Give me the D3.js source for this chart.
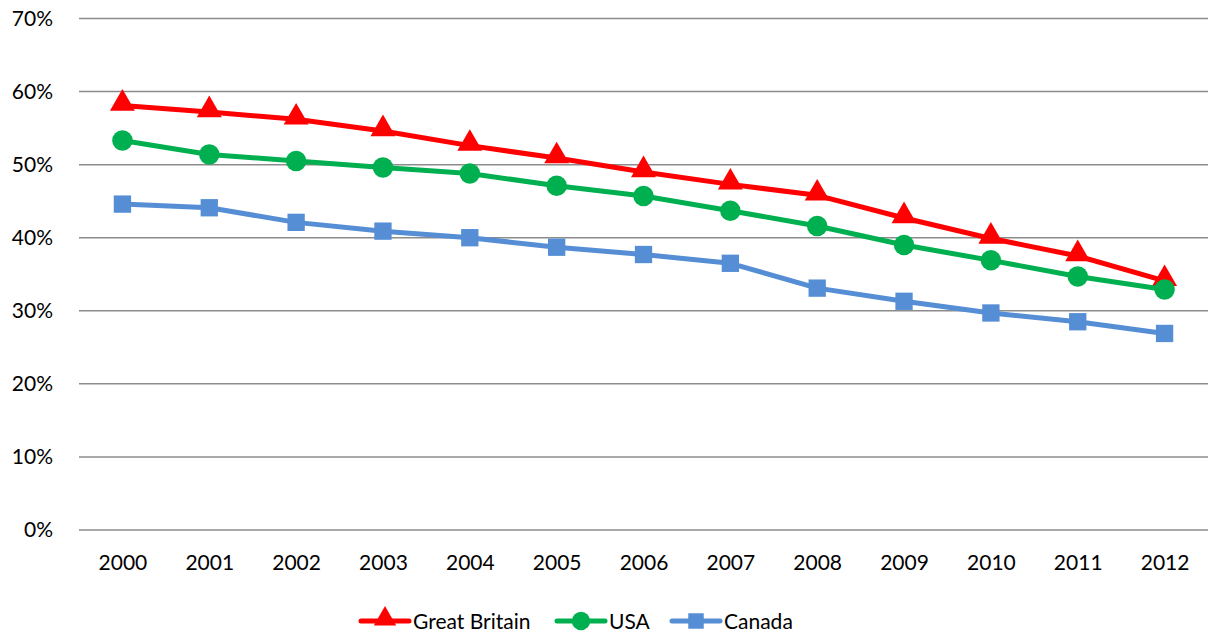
<!DOCTYPE html>
<html>
<head>
<meta charset="utf-8">
<script src="https://cdn.jsdelivr.net/npm/d3@7"></script>
<style>
  body { margin: 0; background: #fff; }
  text { font-family: Lato, "Open Sans", sans-serif; fill: #000; }
</style>
</head>
<body>
<svg id="chart"></svg>
<script>
const years = ["2000","2001","2002","2003","2004","2005","2006","2007","2008","2009","2010","2011","2012"];
const greatBritain = [58.1, 57.2, 56.2, 54.6, 52.6, 50.9, 49.0, 47.3, 45.8, 42.7, 39.9, 37.5, 34.1];
const usa = [53.3, 51.4, 50.5, 49.6, 48.8, 47.1, 45.7, 43.7, 41.6, 39.0, 36.9, 34.7, 32.9];
const canada = [44.6, 44.1, 42.1, 40.9, 40.0, 38.7, 37.7, 36.5, 33.1, 31.3, 29.7, 28.5, 26.9];
const yTicks = [0, 10, 20, 30, 40, 50, 60, 70];

const series = [
    { name: "Great Britain", values: greatBritain, color: "#FF0000", symbol: d3.symbolTriangle, size: 270 },
    { name: "USA", values: usa, color: "#00B050", symbol: d3.symbolCircle, size: 330 },
    { name: "Canada", values: canada, color: "#558ED5", symbol: d3.symbolSquare, size: 300 }
];

const W = 1211, H = 636;
const margin = { top: 18.5, right: 3, bottom: 106, left: 79 };
const width = W - margin.left - margin.right;
const height = H - margin.top - margin.bottom;

const svg = d3.select("#chart").attr("width", W).attr("height", H);
const g = svg.append("g").attr("transform", `translate(${margin.left},${margin.top})`);

const x = d3.scalePoint().domain(years).range([0, width]).padding(0.5);
const y = d3.scaleLinear().domain([0, 70]).range([height, 0]);

// gridlines
g.append("g")
    .selectAll("line")
    .data(yTicks)
    .enter()
    .append("line")
    .attr("x1", 0).attr("x2", width)
    .attr("y1", d => y(d)).attr("y2", d => y(d))
    .attr("stroke", "#8c8c8c")
    .attr("stroke-width", 1.5);

// y axis labels
const yAxis = d3.axisLeft(y).tickValues(yTicks).tickFormat(d => d + "%").tickSize(0).tickPadding(26);
g.append("g").call(yAxis)
    .call(s => s.select(".domain").remove())
    .selectAll("text")
    .style("font-size", "21px");

// x axis labels
const xAxis = d3.axisBottom(x).tickSize(0).tickPadding(25);
g.append("g")
    .attr("transform", `translate(0,${height})`)
    .call(xAxis)
    .call(s => s.select(".domain").remove())
    .selectAll("text")
    .style("font-size", "21px");

const line = d3.line()
    .x((d, i) => x(years[i]))
    .y(d => y(d));

series.forEach(s => {
    g.append("path")
        .datum(s.values)
        .attr("fill", "none")
        .attr("stroke", s.color)
        .attr("stroke-width", 5)
        .attr("stroke-linejoin", "round")
        .attr("d", line);

    g.selectAll(null)
        .data(s.values)
        .enter()
        .append("path")
        .attr("d", d3.symbol().type(s.symbol).size(s.size))
        .attr("transform", (d, i) => `translate(${x(years[i])},${y(d) + (s.symbol === d3.symbolTriangle ? -2 : 0)})`)
        .attr("fill", s.color);
});

// legend
const legendItems = [
    { x: 361, w: 48 },
    { x: 557, w: 48 },
    { x: 672, w: 48 }
];
const legend = svg.append("g").attr("transform", "translate(0,621)");
series.forEach((s, i) => {
    const lx = legendItems[i].x, lw = legendItems[i].w;
    legend.append("line")
        .attr("x1", lx).attr("x2", lx + lw)
        .attr("y1", 0).attr("y2", 0)
        .attr("stroke", s.color)
        .attr("stroke-width", 5)
        .attr("stroke-linecap", "round");
    legend.append("path")
        .attr("d", d3.symbol().type(s.symbol).size(s.size * 0.8))
        .attr("transform", `translate(${lx + lw / 2},${s.symbol === d3.symbolTriangle ? -2 : 0})`)
        .attr("fill", s.color);
    legend.append("text")
        .attr("x", lx + lw + 4)
        .attr("y", 0)
        .attr("dy", "0.36em")
        .style("font-size", "21px")
        .text(s.name);
});
</script>
</body>
</html>
